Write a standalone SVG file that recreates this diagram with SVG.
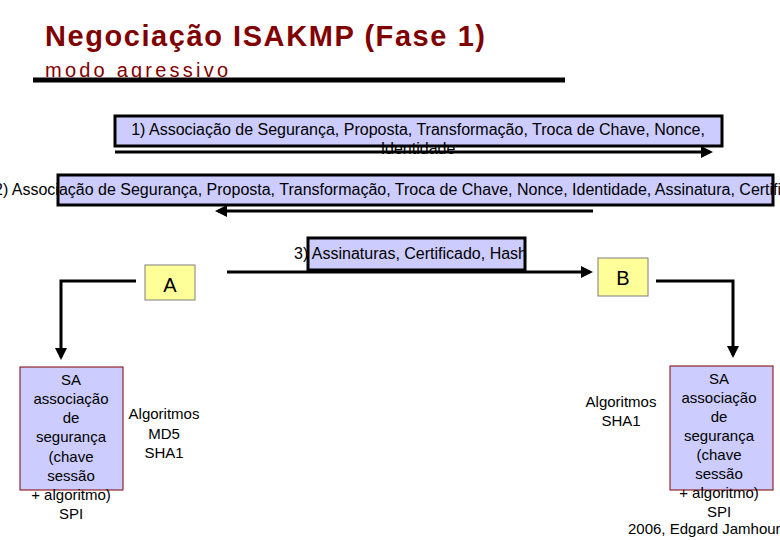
<svg xmlns="http://www.w3.org/2000/svg" width="780" height="540" viewBox="0 0 780 540">
<style>
text{font-family:"Liberation Sans",Arial,sans-serif;fill:#000}
.msg{fill:#ccccff;stroke:#000;stroke-width:3}
.ab{fill:#ffff99;stroke:#7f7f7f;stroke-width:1}
.sa{fill:#ccccff;stroke:#800000;stroke-width:1}
.c{stroke:#000;stroke-width:3;fill:none}
.t{font-size:16px}
.s{font-size:15px;text-anchor:middle}
</style>
<defs><marker id="ah" markerWidth="4" markerHeight="4" refX="3" refY="2" orient="auto" markerUnits="strokeWidth"><path d="M0,0L4,2L0,4z" fill="#000"/></marker></defs>
<rect width="780" height="540" fill="#fff"/>
<g id="title">
<text x="45" y="46" font-size="29" font-weight="bold" textLength="440" style="fill:#800000">Negociação ISAKMP (Fase 1)</text>
<text x="45" y="77" font-size="20" textLength="183" style="fill:#800000">modo agressivo</text>
<line x1="33" y1="80" x2="565" y2="80" stroke="#000" stroke-width="5"/>
</g>
<g id="msg1"><rect class="msg" x="115" y="116" width="607" height="30"/>
<text class="t" x="418" y="135" text-anchor="middle">1) Associação de Segurança, Proposta, Transformação, Troca de Chave, Nonce,</text>
<text class="t" x="418" y="154" text-anchor="middle">Identidade</text></g>
<g id="msg2"><rect class="msg" x="58" y="175" width="715" height="30"/>
<text class="t" x="-6" y="195">2) Associação de Segurança, Proposta, Transformação, Troca de Chave, Nonce, Identidade, Assinatura, Certificado</text></g>
<g id="msg3"><rect class="msg" x="308" y="238" width="217" height="32"/>
<text class="t" x="294" y="259">3) Assinaturas, Certificado, Hash</text></g>
<g id="A"><rect class="ab" x="145" y="265" width="50" height="35"/><text x="170" y="292" font-size="20" text-anchor="middle">A</text></g>
<g id="B"><rect class="ab" x="598" y="258" width="50" height="38"/><text x="623" y="285" font-size="20" text-anchor="middle">B</text></g>
<g id="saA"><rect class="sa" x="20" y="367" width="103" height="123"/>
<text class="s" x="71" y="385">SA</text><text class="s" x="71" y="404">associação</text><text class="s" x="71" y="423">de</text><text class="s" x="71" y="442">segurança</text><text class="s" x="71" y="462">(chave</text><text class="s" x="71" y="481">sessão</text><text class="s" x="71" y="500">+ algoritmo)</text><text class="s" x="71" y="519">SPI</text></g>
<g id="algA"><text class="s" x="164" y="419">Algoritmos</text><text class="s" x="164" y="439">MD5</text><text class="s" x="164" y="458">SHA1</text></g>
<g id="saB"><rect class="sa" x="670" y="366" width="103" height="124"/>
<text class="s" x="719" y="384">SA</text><text class="s" x="719" y="403">associação</text><text class="s" x="719" y="422">de</text><text class="s" x="719" y="441">segurança</text><text class="s" x="719" y="460">(chave</text><text class="s" x="719" y="479">sessão</text><text class="s" x="719" y="498">+ algoritmo)</text><text class="s" x="719" y="517">SPI</text></g>
<g id="algB"><text class="s" x="621" y="407">Algoritmos</text><text class="s" x="621" y="426">SHA1</text></g>
<text x="628" y="534" font-size="15">2006, Edgard Jamhour</text>
<g id="connectors">
<path class="c" d="M115,152H710" marker-end="url(#ah)"/>
<path class="c" d="M593,211H218" marker-end="url(#ah)"/>
<path class="c" d="M227,272H590" marker-end="url(#ah)"/>
<path class="c" d="M136,281H61V357" marker-end="url(#ah)"/>
<path class="c" d="M656,281H733V355" marker-end="url(#ah)"/>
</g>
</svg>
